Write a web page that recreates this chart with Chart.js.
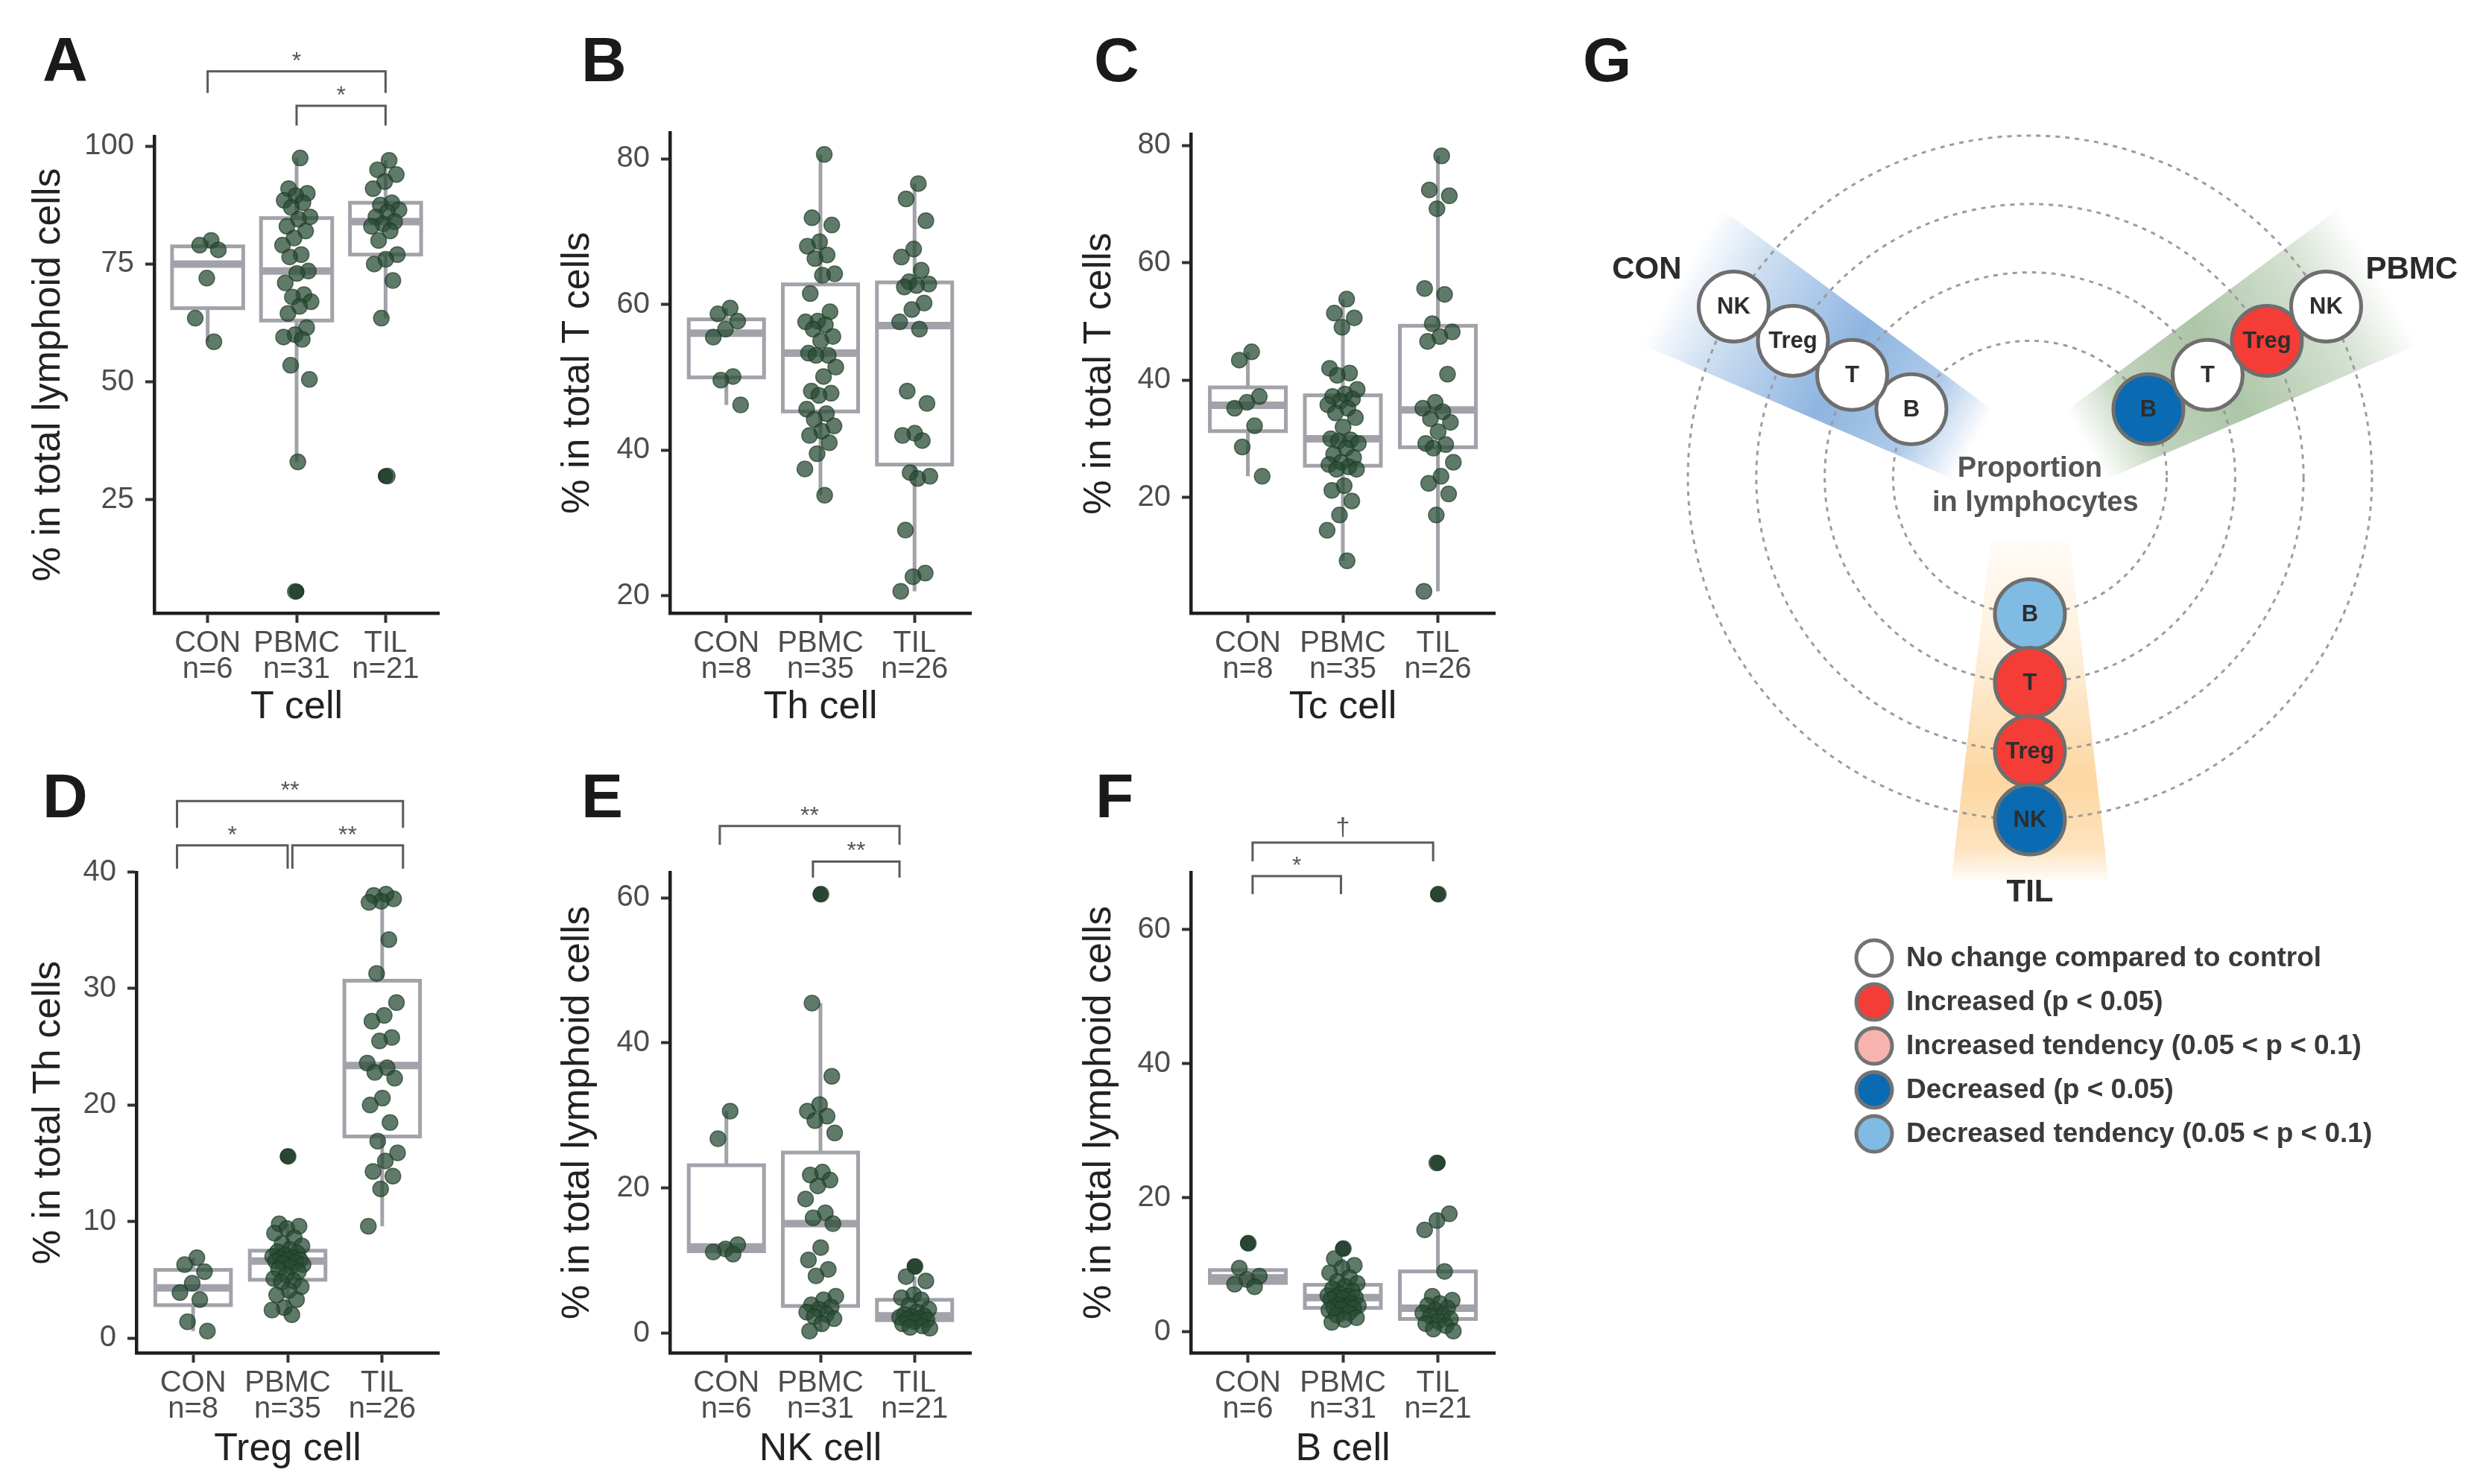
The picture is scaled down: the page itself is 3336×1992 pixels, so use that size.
<!DOCTYPE html>
<html lang="en">
<head>
<meta charset="utf-8">
<title>Lymphocyte subsets in CON, PBMC and TIL</title>
<script src="https://cdn.jsdelivr.net/npm/chart.js@4.4.1/dist/chart.umd.min.js"></script>
<style>
  html, body { margin: 0; padding: 0; background: #fff; }
  #figure { position: relative; width: 3336px; height: 1992px; overflow: hidden; background: #fff; }
  #figure canvas { position: absolute; }
  .tag { position: absolute; font: bold 84px "Liberation Sans", Arial, sans-serif; line-height: 84px; color: #1a1a1a; }
</style>
</head>
<body>
<div id="figure">
  <canvas id="tCell" width="640" height="990" style="left:0px;top:0px"></canvas>
  <canvas id="thCell" width="640" height="990" style="left:700px;top:0px"></canvas>
  <canvas id="tcCell" width="660" height="990" style="left:1420px;top:0px"></canvas>
  <canvas id="tregCell" width="640" height="992" style="left:0px;top:1000px"></canvas>
  <canvas id="nkCell" width="640" height="992" style="left:700px;top:1000px"></canvas>
  <canvas id="bCell" width="660" height="992" style="left:1420px;top:1000px"></canvas>
  <canvas id="summary" width="1236" height="1600" style="left:2100px;top:0px"></canvas>
  <div class="tag" style="left:57px;top:38px">A</div>
  <div class="tag" style="left:780px;top:38px">B</div>
  <div class="tag" style="left:1468px;top:38px">C</div>
  <div class="tag" style="left:57px;top:1026px">D</div>
  <div class="tag" style="left:780px;top:1026px">E</div>
  <div class="tag" style="left:1470px;top:1026px">F</div>
  <div class="tag" style="left:2124px;top:38px">G</div>
</div>
<script>
/* ======= Data ====== */
const groups = ['CON', 'PBMC', 'TIL'];

// A - T cell, % in total lymphoid cells
const tCellCON = [80, 79, 78, 72, 63.5, 58.5];
const tCellPBMC = [97.5, 91, 90, 89.5, 88.5, 88, 87, 85, 84.5, 83, 82, 80.5, 79, 77, 76.5, 73.5,
  73, 71, 68.5, 68, 67, 66, 64.5, 61.5, 60, 59.5, 59, 53.5, 50.5, 33, 5.5];
const tCellTIL = [97, 95, 94, 92.5, 91, 88, 87.5, 86.5, 86, 85, 84, 83.5, 83, 82, 80, 77, 76, 75,
  71.5, 63.5, 30];
const tCellTicks = [25, 50, 75, 100];

// B - Th cell, % in total T cells
const thCellCON = [59.5, 58.7, 57.7, 56.6, 55.5, 50.1, 49.6, 46.2];
const thCellPBMC = [80.6, 71.9, 70.9, 68.6, 68.0, 66.8, 66.3, 64.2, 64.0, 61.5, 59.0, 57.7, 57.6,
  57.2, 56.6, 55.6, 55.0, 53.3, 53.0, 53.0, 51.4, 50.1, 48.1, 47.8, 47.5, 45.6, 45.0, 44.2, 43.3,
  42.6, 42.0, 41.0, 39.5, 37.4, 33.8];
const thCellTIL = [76.6, 74.5, 71.5, 67.6, 66.5, 64.7, 63.1, 62.8, 62.6, 62.4, 60.2, 59.3, 57.6,
  56.6, 48.1, 46.4, 42.3, 42.0, 41.3, 36.9, 36.4, 36.1, 29.0, 23.1, 22.6, 20.6];
const thCellTicks = [20, 40, 60, 80];

// C - Tc cell, % in total T cells
const tcCellCON = [44.8, 43.4, 37.2, 36.2, 35.2, 32.2, 28.6, 23.6];
const tcCellPBMC = [53.8, 51.4, 50.6, 49.0, 42.0, 41.2, 40.8, 38.4, 37.6, 37.2, 36.8, 36.4, 35.8,
  35.2, 34.4, 33.6, 32.0, 30.0, 29.8, 29.6, 29.2, 28.4, 27.4, 26.8, 26.0, 25.6, 25.2, 24.8, 24.8,
  22.0, 21.2, 19.4, 17.0, 14.4, 9.2];
const tcCellTIL = [78.2, 72.4, 71.4, 69.2, 55.6, 54.6, 49.6, 48.2, 47.4, 46.6, 41.0, 36.2, 35.2,
  34.6, 33.4, 32.8, 31.2, 29.2, 29.0, 28.4, 26.0, 23.6, 22.4, 20.6, 17.0, 4.0];
const tcCellTicks = [20, 40, 60, 80];

// D - Treg cell, % in total Th cells
const tregCellCON = [6.9, 6.3, 5.7, 4.7, 3.9, 3.3, 1.4, 0.6];
const tregCellPBMC = [15.6, 9.8, 9.6, 9.4, 9.0, 8.6, 8.1, 7.9, 7.6, 7.4, 7.3, 7.1, 7.0, 6.9, 6.8,
  6.7, 6.7, 6.6, 6.5, 6.4, 6.3, 6.1, 5.9, 5.7, 5.4, 5.1, 4.9, 4.8, 4.4, 4.1, 3.7, 3.3, 2.6, 2.4, 2.0];
const tregCellTIL = [38.1, 38.0, 37.7, 37.5, 37.4, 34.2, 31.3, 28.8, 27.7, 27.2, 25.8, 25.5, 23.6,
  23.2, 22.8, 22.3, 20.6, 20.0, 18.5, 16.9, 15.9, 15.2, 14.3, 13.9, 12.8, 9.6];
const tregCellTicks = [0, 10, 20, 30, 40];

// E - NK cell, % in total lymphoid cells
const nkCellCON = [30.6, 26.8, 12.2, 11.6, 11.2, 10.9];
const nkCellPBMC = [60.5, 45.5, 35.4, 31.5, 30.6, 29.9, 29.3, 27.6, 22.2, 21.8, 21.1, 20.3, 18.5,
  16.6, 15.9, 15.1, 11.8, 10.1, 8.8, 7.9, 5.1, 4.6, 3.9, 3.6, 3.3, 2.9, 2.6, 2.3, 2.0, 1.3, 0.3];
const nkCellTIL = [9.2, 7.8, 7.2, 5.3, 4.9, 4.6, 3.8, 3.3, 2.9, 2.6, 2.4, 2.3, 2.2, 2.0, 1.9, 1.8,
  1.6, 1.3, 1.0, 0.8, 0.7];
const nkCellTicks = [0, 20, 40, 60];

// F - B cell, % in total lymphoid cells
const bCellCON = [13.2, 9.5, 8.3, 7.8, 7.1, 6.7];
const bCellPBMC = [12.4, 10.9, 9.9, 9.5, 8.8, 8.1, 7.5, 7.2, 6.8, 6.4, 6.0, 5.6, 5.4, 5.3, 5.2,
  5.1, 5.0, 4.8, 4.2, 4.0, 3.9, 3.7, 3.6, 3.5, 3.4, 3.2, 2.8, 2.5, 2.1, 1.8, 1.4];
const bCellTIL = [65.3, 25.2, 17.6, 16.6, 15.2, 9.0, 5.3, 4.7, 4.2, 3.9, 3.5, 3.2, 2.8, 2.5, 2.3,
  1.9, 1.6, 1.2, 0.9, 0.4, 0.1];
const bCellTicks = [0, 20, 40, 60];

// G - summary of changes (cells from inner ring to outer ring)
const summaryGroups = ['CON', 'PBMC', 'TIL'];
const summaryCells = ['B', 'T', 'Treg', 'NK'];
const summaryRings = [2, 3, 4, 5];
const statusCON = ['none', 'none', 'none', 'none'];
const statusPBMC = ['down', 'none', 'up', 'none'];
const statusTIL = ['downTendency', 'up', 'up', 'down'];
const legendStatus = ['none', 'up', 'upTendency', 'down', 'downTendency'];
const legendLabels = [
  'No change compared to control',
  'Increased (p < 0.05)',
  'Increased tendency (0.05 < p < 0.1)',
  'Decreased (p < 0.05)',
  'Decreased tendency (0.05 < p < 0.1)'
];

/* ======= Styles ====== */
const FONT = '"Liberation Sans", Arial, sans-serif';
Chart.defaults.font.family = FONT;
const tickFont = { family: FONT, size: 40, lineHeight: 0.88 };
const titleFont = { family: FONT, size: 52, lineHeight: 1.2 };
const boxColor = '#a2a2aa';
const statusColors = {
  none: '#ffffff',
  up: '#f43d36',
  upTendency: '#f7b3ad',
  down: '#0a6bb3',
  downTendency: '#80bbe3'
};

/* ======= Box plot helpers ====== */
function quantile(sorted, p) {
  const h = (sorted.length - 1) * p;
  const lo = Math.floor(h);
  const next = lo + 1 < sorted.length ? sorted[lo + 1] : sorted[lo];
  return sorted[lo] + (h - lo) * (next - sorted[lo]);
}

function boxStats(values) {
  const s = values.slice().sort((a, b) => a - b);
  const q1 = quantile(s, 0.25);
  const med = quantile(s, 0.5);
  const q3 = quantile(s, 0.75);
  const iqr = q3 - q1;
  const fenceLo = q1 - 1.5 * iqr;
  const fenceHi = q3 + 1.5 * iqr;
  const inside = s.filter(v => v >= fenceLo && v <= fenceHi);
  return {
    q1, med, q3, fenceLo, fenceHi,
    lo: inside[0],
    hi: inside[inside.length - 1],
    out: s.filter(v => v < fenceLo || v > fenceHi)
  };
}

// sideways spread of the points of one group (golden ratio steps, no randomness)
function jitter(i) {
  return (((i + 1) * 0.618034) % 1 - 0.5) * 0.34;
}

function boxPlugin(stats) {
  return {
    id: 'boxes',
    beforeDatasetsDraw(chart) {
      const { ctx, scales: { x, y } } = chart;
      ctx.save();
      ctx.strokeStyle = boxColor;
      stats.forEach((st, i) => {
        const cx = x.getPixelForValue(i + 1);
        const half = x.getPixelForValue(i + 1.4) - cx;
        const top = y.getPixelForValue(st.q3);
        const bot = y.getPixelForValue(st.q1);
        ctx.lineWidth = 5;
        ctx.beginPath();
        ctx.moveTo(cx, y.getPixelForValue(st.hi));
        ctx.lineTo(cx, top);
        ctx.moveTo(cx, bot);
        ctx.lineTo(cx, y.getPixelForValue(st.lo));
        ctx.stroke();
        ctx.fillStyle = '#ffffff';
        ctx.fillRect(cx - half, top, half * 2, bot - top);
        ctx.strokeRect(cx - half, top, half * 2, bot - top);
        ctx.lineWidth = 10;
        ctx.beginPath();
        ctx.moveTo(cx - half + 2, y.getPixelForValue(st.med));
        ctx.lineTo(cx + half - 2, y.getPixelForValue(st.med));
        ctx.stroke();
      });
      ctx.restore();
    }
  };
}

// significance brackets above the panels
function bracketPlugin(brackets) {
  return {
    id: 'brackets',
    afterDraw(chart) {
      const { ctx, scales: { x, y } } = chart;
      ctx.save();
      ctx.strokeStyle = '#5a5a5a';
      ctx.fillStyle = '#555555';
      ctx.lineWidth = 3;
      ctx.textAlign = 'center';
      ctx.textBaseline = 'alphabetic';
      brackets.forEach(b => {
        const x1 = x.getPixelForValue(b.from);
        const x2 = x.getPixelForValue(b.to);
        const yy = y.getPixelForValue(b.y);
        const yt = y.getPixelForValue(b.tip);
        ctx.beginPath();
        ctx.moveTo(x1, yt);
        ctx.lineTo(x1, yy);
        ctx.lineTo(x2, yy);
        ctx.lineTo(x2, yt);
        ctx.stroke();
        ctx.font = (b.text === '†' ? '34px ' : '32px ') + FONT;
        ctx.fillText(b.text, (x1 + x2) / 2, yy - (b.text === '†' ? 10 : 4));
      });
      ctx.restore();
    }
  };
}

/* ======= Box panels ====== */
function boxPanel(p) {
  const b = p.box;
  const stats = p.series.map(boxStats);
  const all = [].concat(...p.series);
  const lo = Math.min(...all);
  const hi = Math.max(...all);
  const pad = (hi - lo) * 0.05;

  const points = [];
  const outliers = [];
  p.series.forEach((vals, g) => {
    const st = stats[g];
    vals.forEach((v, i) => {
      const isOut = v < st.fenceLo || v > st.fenceHi;
      // outliers sit almost on the box centre, covering the boxplot's own outlier mark
      points.push({ x: g + 1 + jitter(i) * (isOut ? 0.12 : 1), y: v });
    });
    st.out.forEach(v => outliers.push({ x: g + 1, y: v }));
  });

  new Chart(document.getElementById(p.id), {
    type: 'scatter',
    data: {
      datasets: [{
        data: points,
        pointRadius: 10.5,
        backgroundColor: 'rgba(40, 76, 52, 0.74)',
        borderColor: 'rgba(30, 58, 40, 0.7)',
        borderWidth: 1.5
      }, {
        data: outliers,
        pointRadius: 10.5,
        backgroundColor: 'rgba(18, 38, 24, 0.9)',
        borderWidth: 0
      }]
    },
    options: {
      responsive: false,
      animation: false,
      events: [],
      layout: { autoPadding: false, padding: { left: 0, top: b.top, right: b.w - b.right, bottom: 0 } },
      plugins: { legend: { display: false }, tooltip: { enabled: false } },
      scales: {
        x: {
          type: 'linear',
          min: 0.4,
          max: 3.6,
          afterBuildTicks: s => { s.ticks = [1, 2, 3].map(v => ({ value: v })); },
          afterFit: s => { s.height = b.h - b.bottom; },
          ticks: {
            autoSkip: false,
            maxRotation: 0,
            color: '#4d4d4d',
            font: tickFont,
            padding: 10,
            callback: v => [groups[v - 1], 'n=' + p.series[v - 1].length]
          },
          grid: { drawOnChartArea: false, tickLength: 13, tickWidth: 4, tickColor: '#333333' },
          border: { display: true, color: '#1f1f1f', width: 4.5 },
          title: {
            display: true,
            text: p.xTitle,
            color: '#222222',
            font: titleFont,
            padding: { top: 0, bottom: b.xTitleY - 31 }
          }
        },
        y: {
          min: lo - pad,
          max: hi + pad,
          afterBuildTicks: s => { s.ticks = p.ticks.map(v => ({ value: v })); },
          afterFit: s => { s.width = b.left; },
          ticks: { color: '#4d4d4d', font: tickFont, padding: 15 },
          grid: { drawOnChartArea: false, tickLength: 12, tickWidth: 4, tickColor: '#333333' },
          border: { display: true, color: '#1f1f1f', width: 4.5 },
          title: {
            display: true,
            text: p.yTitle,
            color: '#222222',
            font: titleFont,
            padding: { top: b.yTitleX - 31, bottom: 0 }
          }
        }
      }
    },
    plugins: [boxPlugin(stats), bracketPlugin(p.brackets)]
  });
}

boxPanel({
  id: 'tCell', series: [tCellCON, tCellPBMC, tCellTIL], ticks: tCellTicks,
  yTitle: '% in total lymphoid cells', xTitle: 'T cell',
  box: { w: 640, h: 990, left: 207, top: 183, right: 589, bottom: 823, yTitleX: 65, xTitleY: 40 },
  brackets: [
    { from: 1, to: 3, y: 115.9, tip: 111.3, text: '*' },
    { from: 2, to: 3, y: 108.6, tip: 104.4, text: '*' }
  ]
});
boxPanel({
  id: 'thCell', series: [thCellCON, thCellPBMC, thCellTIL], ticks: thCellTicks,
  yTitle: '% in total T cells', xTitle: 'Th cell',
  box: { w: 640, h: 990, left: 199, top: 178, right: 603, bottom: 823, yTitleX: 75, xTitleY: 40 },
  brackets: []
});
boxPanel({
  id: 'tcCell', series: [tcCellCON, tcCellPBMC, tcCellTIL], ticks: tcCellTicks,
  yTitle: '% in total T cells', xTitle: 'Tc cell',
  box: { w: 660, h: 990, left: 178, top: 180, right: 586, bottom: 823, yTitleX: 55, xTitleY: 40 },
  brackets: []
});
boxPanel({
  id: 'tregCell', series: [tregCellCON, tregCellPBMC, tregCellTIL], ticks: tregCellTicks,
  yTitle: '% in total Th cells', xTitle: 'Treg cell',
  box: { w: 640, h: 992, left: 183, top: 171, right: 589, bottom: 816, yTitleX: 65, xTitleY: 46 },
  brackets: [
    { from: 0.83, to: 3.22, y: 46.1, tip: 43.8, text: '**' },
    { from: 0.83, to: 2.0, y: 42.3, tip: 40.3, text: '*' },
    { from: 2.05, to: 3.22, y: 42.3, tip: 40.3, text: '**' }
  ]
});
boxPanel({
  id: 'nkCell', series: [nkCellCON, nkCellPBMC, nkCellTIL], ticks: nkCellTicks,
  yTitle: '% in total lymphoid cells', xTitle: 'NK cell',
  box: { w: 640, h: 992, left: 199, top: 171, right: 603, bottom: 816, yTitleX: 75, xTitleY: 46 },
  brackets: [
    { from: 0.93, to: 2.84, y: 69.9, tip: 67.3, text: '**' },
    { from: 1.92, to: 2.84, y: 65.0, tip: 62.8, text: '**' }
  ]
});
boxPanel({
  id: 'bCell', series: [bCellCON, bCellPBMC, bCellTIL], ticks: bCellTicks,
  yTitle: '% in total lymphoid cells', xTitle: 'B cell',
  box: { w: 660, h: 992, left: 178, top: 171, right: 586, bottom: 816, yTitleX: 55, xTitleY: 46 },
  brackets: [
    { from: 1.05, to: 2.95, y: 73.0, tip: 70.2, text: '†' },
    { from: 1.05, to: 1.98, y: 68.0, tip: 65.3, text: '*' }
  ]
});

/* ======= Summary panel (G) ====== */
const summaryLayout = {
  angles: [150, 30, 270],
  fan: { r0: 0.95, r1: 5.9, w0: 0.58, w1: 1.15 },
  fanColors: ['88,145,210', '105,150,95', '250,188,100'],
  fanStops: [
    [[0, 0], [0.18, 0.48], [0.45, 0.68], [0.8, 0.3], [1, 0]],
    [[0, 0], [0.18, 0.42], [0.45, 0.55], [0.8, 0.28], [1, 0]],
    [[0, 0.06], [0.3, 0.22], [0.7, 0.6], [0.9, 0.42], [1, 0.04]]
  ],
  groupLabels: [[-5.6, 3.03], [5.58, 3.03], [0, -6.07]],
  legend: { x: 415, y: 1286, step: 59, r: 24, textX: 458 }
};
const summaryStatus = [statusCON, statusPBMC, statusTIL];

const summaryPlugin = {
  id: 'summary',
  beforeDatasetsDraw(chart) {
    const { ctx, scales: { x, y } } = chart;
    const L = summaryLayout;
    const f = L.fan;
    ctx.save();
    summaryGroups.forEach((g, k) => {
      const a = L.angles[k] * Math.PI / 180;
      const dx = Math.cos(a), dy = Math.sin(a);
      const nx = -dy, ny = dx;
      const corners = [[f.r0, -f.w0], [f.r1, -f.w1], [f.r1, f.w1], [f.r0, f.w0]];
      const grad = ctx.createLinearGradient(
        x.getPixelForValue(f.r0 * dx), y.getPixelForValue(f.r0 * dy),
        x.getPixelForValue(f.r1 * dx), y.getPixelForValue(f.r1 * dy));
      L.fanStops[k].forEach(s => grad.addColorStop(s[0], 'rgba(' + L.fanColors[k] + ',' + s[1] + ')'));
      ctx.fillStyle = grad;
      ctx.beginPath();
      corners.forEach((c, i) => {
        const px = x.getPixelForValue(c[0] * dx + c[1] * nx);
        const py = y.getPixelForValue(c[0] * dy + c[1] * ny);
        if (i === 0) ctx.moveTo(px, py); else ctx.lineTo(px, py);
      });
      ctx.closePath();
      ctx.fill();
    });
    // dotted rings
    ctx.setLineDash([6, 7]);
    ctx.strokeStyle = '#9c9c9c';
    ctx.lineWidth = 3;
    const cx = x.getPixelForValue(0), cy = y.getPixelForValue(0);
    summaryRings.forEach(r => {
      ctx.beginPath();
      ctx.arc(cx, cy, x.getPixelForValue(r) - cx, 0, Math.PI * 2);
      ctx.stroke();
    });
    ctx.restore();
  },
  afterDatasetsDraw(chart) {
    const { ctx, scales: { x, y } } = chart;
    const L = summaryLayout;
    ctx.save();
    ctx.textAlign = 'center';
    ctx.textBaseline = 'middle';
    // cell names inside nodes
    ctx.fillStyle = '#2e2e2e';
    ctx.font = 'bold 31px ' + FONT;
    chart.data.datasets.forEach((ds, k) => {
      chart.getDatasetMeta(k).data.forEach((el, i) => {
        ctx.fillText(summaryCells[i], el.x, el.y + 1);
      });
    });
    // group names
    ctx.fillStyle = '#2b2b2b';
    ctx.font = 'bold 42px ' + FONT;
    summaryGroups.forEach((g, k) => {
      const p = L.groupLabels[k];
      ctx.fillText(g, x.getPixelForValue(p[0]), y.getPixelForValue(p[1]));
    });
    ctx.fillStyle = '#555555';
    ctx.font = 'bold 38px ' + FONT;
    ctx.fillText('Proportion', x.getPixelForValue(0), y.getPixelForValue(0.12));
    ctx.fillText('in lymphocytes', x.getPixelForValue(0.08), y.getPixelForValue(-0.38));
    // legend
    const lg = L.legend;
    ctx.textAlign = 'left';
    ctx.font = 'bold 37px ' + FONT;
    legendLabels.forEach((label, i) => {
      const yy = lg.y + i * lg.step;
      ctx.beginPath();
      ctx.arc(lg.x, yy, lg.r, 0, Math.PI * 2);
      ctx.fillStyle = statusColors[legendStatus[i]];
      ctx.fill();
      ctx.lineWidth = 5;
      ctx.strokeStyle = '#737373';
      ctx.stroke();
      ctx.fillStyle = '#3a3a3a';
      ctx.fillText(label, lg.textX, yy + 1);
    });
    ctx.restore();
  }
};

new Chart(document.getElementById('summary'), {
  type: 'scatter',
  data: {
    datasets: summaryGroups.map((g, k) => {
      const a = summaryLayout.angles[k] * Math.PI / 180;
      return {
        label: g,
        data: summaryCells.map((c, i) => ({
          x: summaryRings[i] * Math.cos(a),
          y: summaryRings[i] * Math.sin(a)
        })),
        backgroundColor: summaryStatus[k].map(s => statusColors[s]),
        borderColor: '#6e6e6e',
        borderWidth: 5,
        pointRadius: 47
      };
    })
  },
  options: {
    responsive: false,
    animation: false,
    events: [],
    layout: { autoPadding: false, padding: 0 },
    plugins: { legend: { display: false }, tooltip: { enabled: false } },
    scales: {
      x: { display: false, min: -6.797, max: 6.667 },
      y: { display: false, min: -10.447, max: 6.983 }
    }
  },
  plugins: [summaryPlugin]
});
</script>
</body>
</html>
